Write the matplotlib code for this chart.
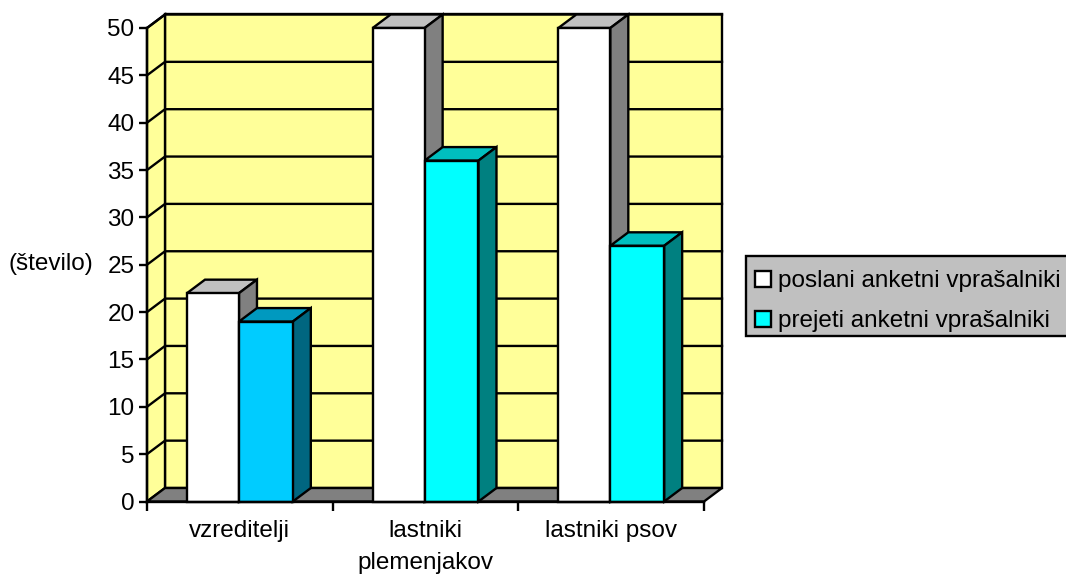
import matplotlib
matplotlib.use('Agg')
import matplotlib.pyplot as plt
from matplotlib.patches import Polygon, Patch, Rectangle

plt.rcParams['font.family'] = ['Liberation Sans', 'DejaVu Sans']

categories = ['vzreditelji', 'lastniki\nplemenjakov', 'lastniki psov']
sent = [22, 50, 50]
received = [19, 36, 27]
y_ticks = list(range(0, 55, 5))
series_names = ['poslani anketni vprašalniki', 'prejeti anketni vprašalniki']

WIDTH, HEIGHT = 1066, 574
LEFT, RIGHT, BOTTOM, TOP = 147, 704, 501.5, 28
# depth of the fake 3d box, in data units
DX = 18 / 185.7
DY = 13.5 / 9.47
BAR_W1 = 0.28
BAR_W2 = 0.29
GAP = 0.2154
LW = 1.7
FS = 17.5


def add_poly(ax, pts, color, z):
    ax.add_patch(Polygon(pts, closed=True, facecolor=color, edgecolor='black',
                         linewidth=LW, zorder=z, clip_on=False, joinstyle='miter'))


def bar_3d(ax, x, h, w, front, top, side, z):
    ax.bar(x, h, w, align='edge', color=front, edgecolor='black',
           linewidth=LW, zorder=z + 0.2, clip_on=False)
    add_poly(ax, [(x, h), (x + DX, h + DY), (x + w + DX, h + DY), (x + w, h)], top, z)
    add_poly(ax, [(x + w, 0), (x + w + DX, DY), (x + w + DX, h + DY), (x + w, h)], side, z)


def main():
    fig = plt.figure(figsize=(WIDTH / 100, HEIGHT / 100), dpi=100, facecolor='white')
    ax = fig.add_axes([LEFT / WIDTH, 1 - BOTTOM / HEIGHT,
                       (RIGHT - LEFT) / WIDTH, (BOTTOM - TOP) / HEIGHT])
    n = len(categories)
    ax.set_xlim(0, n)
    ax.set_ylim(0, 50)
    ymax = y_ticks[-1]

    # walls and floor
    add_poly(ax, [(DX, DY), (n + DX, DY), (n + DX, ymax + DY), (DX, ymax + DY)], '#FFFF99', 1)
    add_poly(ax, [(0, 0), (DX, DY), (DX, ymax + DY), (0, ymax)], '#FFFF99', 1)
    add_poly(ax, [(0, 0), (n, 0), (n + DX, DY), (DX, DY)], '#808080', 1)

    # gridlines on back and side wall
    for t in y_ticks[1:]:
        ax.plot([0, DX, n + DX], [t, t + DY, t + DY], color='black', lw=LW,
                zorder=2, clip_on=False, solid_joinstyle='miter')

    for i in range(n):
        x1 = i + GAP
        x2 = x1 + BAR_W1
        bar_3d(ax, x1, sent[i], BAR_W1, 'white', '#C0C0C0', '#808080', 3)
        if i == 0:
            bar_3d(ax, x2, received[i], BAR_W2, '#00CCFF', '#0099BF', '#006680', 4)
        else:
            bar_3d(ax, x2, received[i], BAR_W2, '#00FFFF', '#00BFBF', '#008080', 4)

    for s in ['top', 'right']:
        ax.spines[s].set_visible(False)
    for s in ['left', 'bottom']:
        ax.spines[s].set_linewidth(LW)
        ax.spines[s].set_zorder(6)
    ax.set_facecolor('none')

    ax.set_yticks(y_ticks)
    ax.tick_params(axis='y', length=6, width=LW, labelsize=FS, pad=3)
    ax.set_xticks(range(n + 1))
    ax.set_xticklabels([])
    ax.tick_params(axis='x', length=6.5, width=LW)
    for i, c in enumerate(categories):
        ax.annotate(c, (i + 0.5, 0), xytext=(0, -13), textcoords='offset points',
                    ha='center', va='top', fontsize=FS, linespacing=1.6)

    fig.text(8 / WIDTH, 1 - 263.5 / HEIGHT, '(število)', fontsize=FS, ha='left', va='center')

    # legend box runs off the right edge of the picture
    fig.add_artist(Rectangle((745.5 / WIDTH, 1 - 336 / HEIGHT), 340 / WIDTH, 80 / HEIGHT,
                             transform=fig.transFigure, facecolor='#C0C0C0',
                             edgecolor='black', linewidth=LW))
    handles = [Patch(facecolor='white', edgecolor='black', linewidth=LW),
               Patch(facecolor='#00FFFF', edgecolor='black', linewidth=LW)]
    fig.legend(handles, series_names, loc='upper left',
               bbox_to_anchor=(745 / WIDTH, 1 - 260 / HEIGHT),
               fontsize=FS, frameon=False, handlelength=0.65, handleheight=0.65,
               handletextpad=0.3, borderaxespad=0, borderpad=0.42, labelspacing=0.74)

    fig.savefig('out.png', dpi=100)


if __name__ == '__main__':
    main()
